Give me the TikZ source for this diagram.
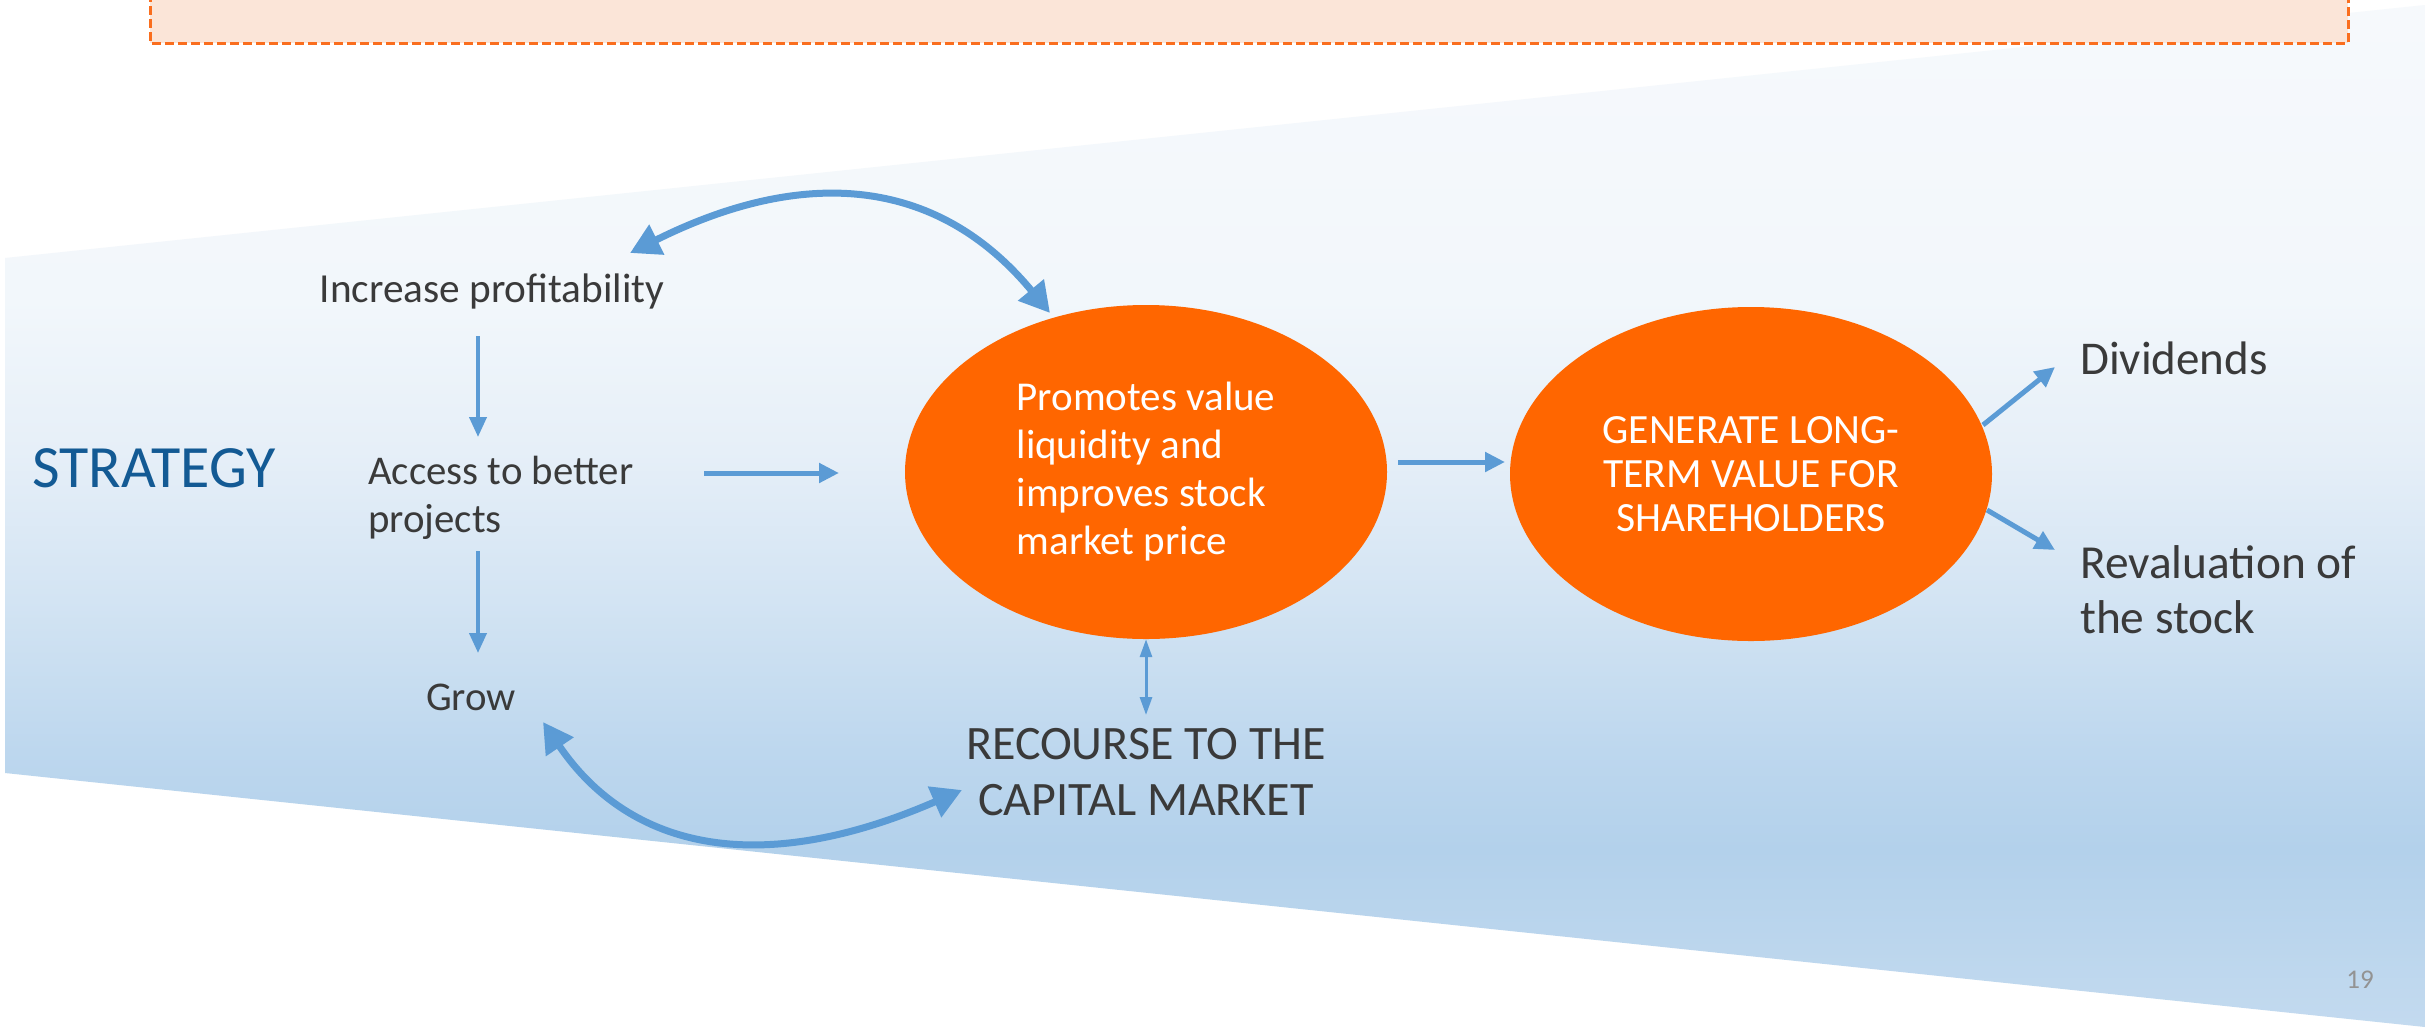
\documentclass[tikz,border=0pt]{standalone}
\usepackage{fontspec}
\setmainfont{Carlito}
\usetikzlibrary{arrows.meta,shapes.geometric}
\definecolor{orng}{HTML}{FF6600}
\definecolor{arrblue}{HTML}{5B9BD5}
\definecolor{txt}{HTML}{3A3A3A}
\definecolor{strat}{HTML}{135A94}
\definecolor{peach}{HTML}{FBE5D8}
\definecolor{dashor}{HTML}{FA6E1E}
\definecolor{bA}{HTML}{F6F9FC}
\definecolor{bB}{HTML}{F2F7FB}
\definecolor{bC}{HTML}{E6EFF8}
\definecolor{bD}{HTML}{D3E4F3}
\definecolor{bE}{HTML}{BDD7EE}
\definecolor{bF}{HTML}{B3D1EB}
\definecolor{bG}{HTML}{C3DAEF}
\pgfdeclareverticalshading{bgshade}{100bp}{color(0bp)=(bG); color(25bp)=(bG); color(33.7bp)=(bF); color(38.5bp)=(bE); color(45.9bp)=(bD); color(53.2bp)=(bC); color(60.6bp)=(bB); color(75bp)=(bA); color(100bp)=(bA)}
\tikzset{
  lbl/.style={inner sep=0pt, text=txt},
  blob/.style={ellipse, fill=orng, inner sep=0pt, text=white, minimum width=482pt, minimum height=334pt},
  varr/.style={arrblue, line width=4pt, -{Triangle[length=20pt,width=17pt]}},
  harr/.style={arrblue, line width=5pt, -{Triangle[length=20pt,width=19pt]}},
  darr/.style={arrblue, line width=3pt, {Triangle[length=18pt,width=12pt]}-{Triangle[length=18pt,width=12pt]}},
  carr/.style={arrblue, line width=7pt, {Triangle[length=30pt,width=32pt]}-{Triangle[length=30pt,width=32pt]}},
}
\begin{document}
\begin{tikzpicture}[x=1pt,y=-1pt]
\useasboundingbox (0,0) rectangle (2425,1029);
\fill[white] (0,0) rectangle (2425,1029);
\shade[shading=bgshade] (5,258) -- (2425,5) -- (2425,1027) -- (5,773) -- cycle;
\draw[dashor, line width=3pt, dash pattern=on 9pt off 4pt, fill=peach] (150,-20) rectangle (2348,43);

\node[lbl, text=strat, font=\fontsize{60}{66}\selectfont] (strat) at (154,468) {STRATEGY};
\node[lbl, font=\fontsize{41.3}{48}\selectfont] (ip) at (492,291) {Increase profitability};
\node[lbl, anchor=west, align=left, font=\fontsize{40.8}{48}\selectfont] (acc) at (368,498) {Access to better\\projects};
\node[lbl, font=\fontsize{40.8}{48}\selectfont] (grow) at (471,697) {Grow};
\node[blob, align=left, font=\fontsize{41}{48}\selectfont] (e1) at (1146,472) {Promotes value\\liquidity and\\improves stock\\market price};
\node[blob, align=center, font=\fontsize{41.6}{44}\selectfont] (e2) at (1751,474) {GENERATE LONG-\\TERM VALUE FOR\\SHAREHOLDERS};
\node[lbl, align=center, font=\fontsize{48}{56}\selectfont] (rec) at (1146,772) {RECOURSE TO THE\\CAPITAL MARKET};
\node[lbl, anchor=west, font=\fontsize{47}{54}\selectfont] (div) at (2080,358) {Dividends};
\node[lbl, anchor=west, align=left, font=\fontsize{47.4}{55}\selectfont] (rev) at (2080,590) {Revaluation of\\the stock};
\node[lbl, text=gray!85, font=\fontsize{27}{30}\selectfont] (pg) at (2360,980) {19};

\draw[varr] ([shift={(-14,45)}]ip.center) -- ([shift={(110,-61)}]acc.west);
\draw[varr] ([shift={(110,53)}]acc.west) -- ([shift={(7,-44)}]grow.center);
\draw[harr] ([shift={(336,-25)}]acc.west) -- ([shift={(-307,1)}]e1.center);
\draw[harr] ([shift={(252,-10)}]e1.center) -- ([shift={(-246,-12)}]e2.center);
\draw[harr] ([shift={(232,-49)}]e2.center) -- ([shift={(-25,9)}]div.west);
\draw[harr] ([shift={(236,36)}]e2.center) -- ([shift={(-25,-40)}]rev.west);
\draw[darr] (e1.south) -- ([shift={(0,-57)}]rec.center);
\draw[carr] ([shift={(138,-38)}]ip.center) .. controls (800,168) and (935,174) .. ([shift={(-96,-159)}]e1.center);
\draw[carr] ([shift={(72,25)}]grow.center) .. controls (630,850) and (760,878) .. ([shift={(-184,18)}]rec.center);
\end{tikzpicture}
\end{document}
